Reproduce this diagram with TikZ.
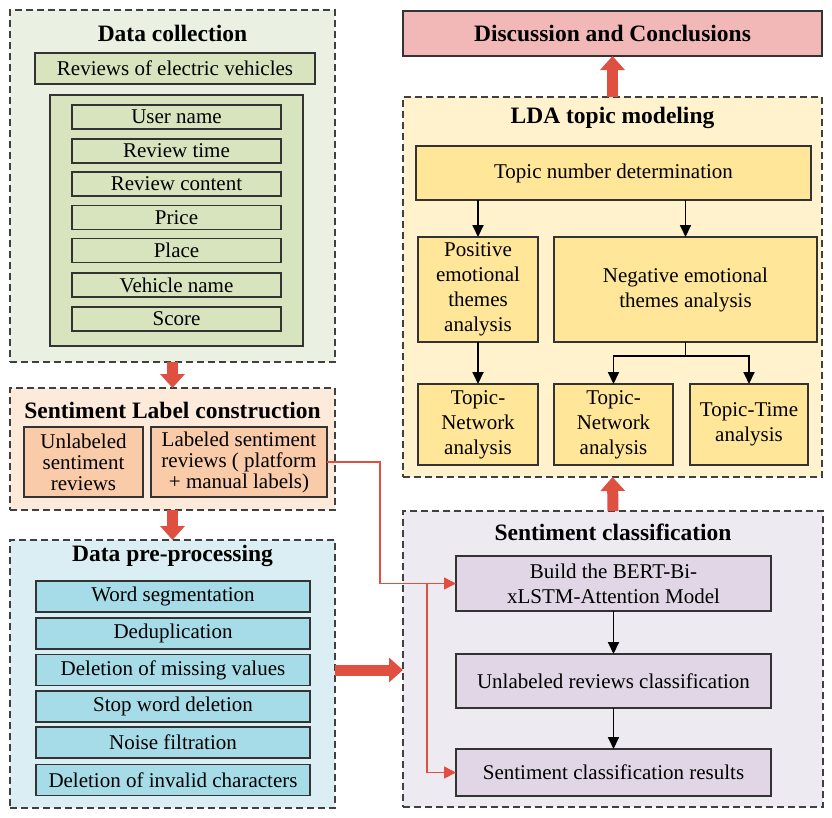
\documentclass[tikz,border=0pt]{standalone}
\usepackage{fontspec}
\setmainfont{Liberation Serif}
\usetikzlibrary{arrows.meta, positioning, calc}
\definecolor{bgGreen}{HTML}{EAF1E2}
\definecolor{boxGreen}{HTML}{D7E4BD}
\definecolor{bgOrange}{HTML}{FDEADA}
\definecolor{boxOrange}{HTML}{F9CBA8}
\definecolor{bgBlue}{HTML}{DAEEF3}
\definecolor{boxBlue}{HTML}{A6DCE7}
\definecolor{bgYellow}{HTML}{FFF2CC}
\definecolor{boxYellow}{HTML}{FFE699}
\definecolor{bgPurple}{HTML}{EEEAF2}
\definecolor{boxPurple}{HTML}{E0D6E6}
\definecolor{boxPink}{HTML}{F2B8B8}
\definecolor{MainRed}{HTML}{E05040}
\tikzset{
  % riquadri tratteggiati
  group/.style={draw=black!75,line width=1.7pt,dash pattern=on 7pt off 4pt,inner sep=0pt,outer sep=0pt},
  heading/.style={font=\fontsize{23.5}{27}\selectfont\bfseries},
  % blocchi
  box/.style={draw=black!80,line width=1.7pt,inner sep=1pt,outer sep=0pt,align=center,font=\fontsize{21}{21}\selectfont},
  box wide/.style={box,font=\fontsize{21}{25}\selectfont},
  % frecce
  bigarrow/.style={-{Triangle[length=14pt,width=24pt]},line width=11pt,draw=MainRed},
  link/.style={-{Triangle[length=12pt,width=12pt]},line width=1.6pt,draw=MainRed},
  flow/.style={-{Triangle[length=12pt,width=11pt]},line width=1.8pt}
}
\begin{document}
\begin{tikzpicture}[x=1pt,y=-1pt]
  \useasboundingbox (0,0) rectangle (832,817);
  % gruppi
  \node[group,fill=bgGreen,minimum width=325,minimum height=352] (collect) at (172.5,186) {};
  \node[group,fill=bgOrange,minimum width=325,minimum height=122] (label) at (172.5,449) {};
  \node[group,fill=bgBlue,minimum width=325,minimum height=268] (prep) at (172.5,674) {};
  \node[group,fill=bgYellow,minimum width=419,minimum height=380] (lda) at (612.5,287) {};
  \node[group,fill=bgPurple,minimum width=420,minimum height=296] (sc) at (613,659) {};
  % Data collection
  \node[heading] (collecttitle) at (172.5,33) {Data collection};
  \node[box,fill=boxGreen,minimum width=280,minimum height=31] (reviews) at (175,68.5) {Reviews of electric vehicles};
  \node[box,fill=boxGreen,minimum width=253,minimum height=251] (fields) at (176.5,220.5) {};
  \foreach \name/\y/\txt in {uname/117/User name, rtime/151/Review time, rcontent/184/Review content,
      price/217.5/Price, place/250.5/Place, vname/285/Vehicle name, score/319/Score}
    \node[box,fill=boxGreen,minimum width=209,minimum height=24] (\name) at (176.5,\y) {\txt};
  % Sentiment Label construction
  \node[heading] (labeltitle) at (172.5,410) {Sentiment Label construction};
  \node[box,fill=boxOrange,minimum width=119,minimum height=70] (unlab) at (83.5,462) {Unlabeled\\sentiment\\reviews};
  \node[box,fill=boxOrange,minimum width=176,minimum height=70] (lab) at (239,462) {Labeled sentiment\\reviews ( platform\\+ manual labels)};
  % Data pre-processing
  \node[heading] (preptitle) at (172.5,556) {Data pre-processing};
  \foreach \name/\y/\txt in {seg/596.5/Word segmentation, dedup/633.5/Deduplication, missing/670/Deletion of missing values,
      stopw/706.5/Stop word deletion, noise/742.5/Noise filtration, invalid/780/Deletion of invalid characters}
    \node[box,fill=boxBlue,minimum width=274,minimum height=31] (\name) at (173,\y) {\txt};
  % Discussion
  \node[box,fill=boxPink,minimum width=419,minimum height=45,font=\fontsize{23.5}{27}\selectfont\bfseries] (disc) at (612.5,33.5) {Discussion and Conclusions};
  % LDA topic modeling
  \node[heading] (ldatitle) at (612.5,118) {LDA topic modeling};
  \node[box wide,fill=boxYellow,minimum width=395,minimum height=54] (topicnum) at (613.5,173) {Topic number determination};
  \node[box wide,fill=boxYellow,minimum width=120,minimum height=105] (pos) at (478,289.5) {Positive\\emotional\\themes\\analysis};
  \node[box wide,fill=boxYellow,minimum width=263,minimum height=105] (neg) at (685.5,289.5) {Negative emotional\\themes analysis};
  \node[box wide,fill=boxYellow,minimum width=120,minimum height=81] (posnet) at (478,424.5) {Topic-\\Network\\analysis};
  \node[box wide,fill=boxYellow,minimum width=119,minimum height=81] (negnet) at (613.5,424.5) {Topic-\\Network\\analysis};
  \node[box wide,fill=boxYellow,minimum width=118,minimum height=81] (negtime) at (749,424.5) {Topic-Time\\analysis};
  % Sentiment classification
  \node[heading] (sctitle) at (613,532) {Sentiment classification};
  \node[box wide,fill=boxPurple,minimum width=315,minimum height=55] (build) at (613.5,583.5) {Build the BERT-Bi-\\xLSTM-Attention Model};
  \node[box wide,fill=boxPurple,minimum width=315,minimum height=54] (ucls) at (613.5,681) {Unlabeled reviews classification};
  \node[box wide,fill=boxPurple,minimum width=315,minimum height=47] (res) at (613.5,772.5) {Sentiment classification results};
  % frecce nere
  \draw[flow] (topicnum.south -| pos.north) -- (pos.north);
  \draw[flow] (topicnum.south -| neg.north) -- (neg.north);
  \draw[flow] (pos) -- (posnet);
  \coordinate (fork) at ($(neg.south)+(0,14)$);
  \draw[flow] (neg.south) -- (fork) -| (negnet.north);
  \draw[flow] (fork) -| (negtime.north);
  \draw[flow] (build) -- (ucls);
  \draw[flow] (ucls) -- (res);
  % frecce rosse grandi
  \draw[bigarrow] (collect.south) -- (label.north);
  \draw[bigarrow] (label.south) -- (prep.north);
  \draw[bigarrow] (prep.east |- missing) -- (sc.west |- missing);
  \draw[bigarrow] (sc.north) -- (lda.south);
  \draw[bigarrow] (lda.north) -- (disc.south);
  % collegamento etichette
  \coordinate (bend) at (380,463);
  \coordinate (split) at (427,584);
  \draw[link] (lab.east) -- (lab.east -| bend) |- (build.west);
  \draw[link] (build.west -| split) |- (res.west);
\end{tikzpicture}
\end{document}
